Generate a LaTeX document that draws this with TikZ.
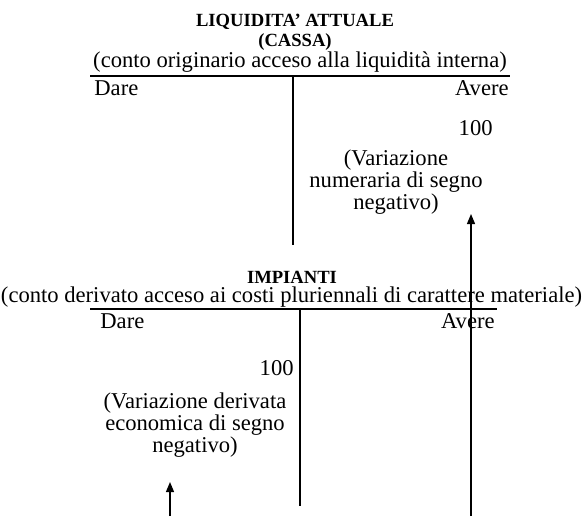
\documentclass[tikz,border=0pt]{standalone}
\usepackage{fontspec}
\setmainfont{Liberation Serif}
\usetikzlibrary{arrows.meta,positioning}

\begin{document}
\begin{tikzpicture}[
        x=0.5pt, y=-0.5pt,
        font=\fontsize{11.3}{11}\selectfont,
        >={Triangle[length=5pt,width=4pt]},
        title/.style={font=\fontsize{9.3}{10}\selectfont\bfseries, inner sep=0pt, align=center},
        lbl/.style={inner sep=0pt},
        note/.style={inner sep=0pt, align=center},
        rule/.style={line width=0.6pt},
        arrow/.style={->, line width=0.6pt}
    ]
    \useasboundingbox (0,0) rectangle (583,516);

    % conto originario (cassa)
    \node[title] (cassa) at (295,32) {LIQUIDITA' ATTUALE\\(CASSA)};
    \node[lbl] (cassaSub) at (300,62) {(conto originario acceso alla liquidità interna)};
    \coordinate (cassaL) at (90,76);
    \coordinate (cassaR) at (510,76);
    \coordinate (cassaT) at (293,76);
    \coordinate (cassaB) at (293,245);
    \draw[rule] (cassaL) -- (cassaR);
    \draw[rule] (cassaT) -- (cassaB);
    \node[lbl, anchor=west] (cassaDare) at (94,88) {Dare};
    \node[lbl, anchor=east] (cassaAvere) at (509,88) {Avere};
    \node[lbl, anchor=east] (cassaImp) at (493,128) {100};
    \node[note] (cassaNote) at (396,182) {(Variazione\\numeraria di segno\\negativo)};

    % conto derivato (impianti)
    \node[title] (imp) at (292,277) {IMPIANTI};
    \node[lbl] (impSub) at (291.5,297) {(conto derivato acceso ai costi pluriennali di carattere materiale)};
    \coordinate (impL) at (90,309);
    \coordinate (impR) at (497,309);
    \coordinate (impT) at (300,309);
    \coordinate (impB) at (300,506);
    \draw[rule] (impL) -- (impR);
    \draw[rule] (impT) -- (impB);
    \node[lbl, anchor=west] (impDare) at (100,321) {Dare};
    \node[lbl, anchor=east] (impAvere) at (495,321) {Avere};
    \node[lbl, anchor=east] (impImp) at (294,368) {100};
    \node[note] (impNote) at (195,425) {(Variazione derivata\\economica di segno\\negativo)};

    % frecce
    \coordinate (cassaFrom) at (471,516);
    \coordinate (cassaTo) at (471,214);
    \coordinate (impFrom) at (170,516);
    \coordinate (impTo) at (170,482);
    \draw[arrow] (cassaFrom) -- (cassaTo);
    \draw[arrow] (impFrom) -- (impTo);
\end{tikzpicture}
\end{document}
